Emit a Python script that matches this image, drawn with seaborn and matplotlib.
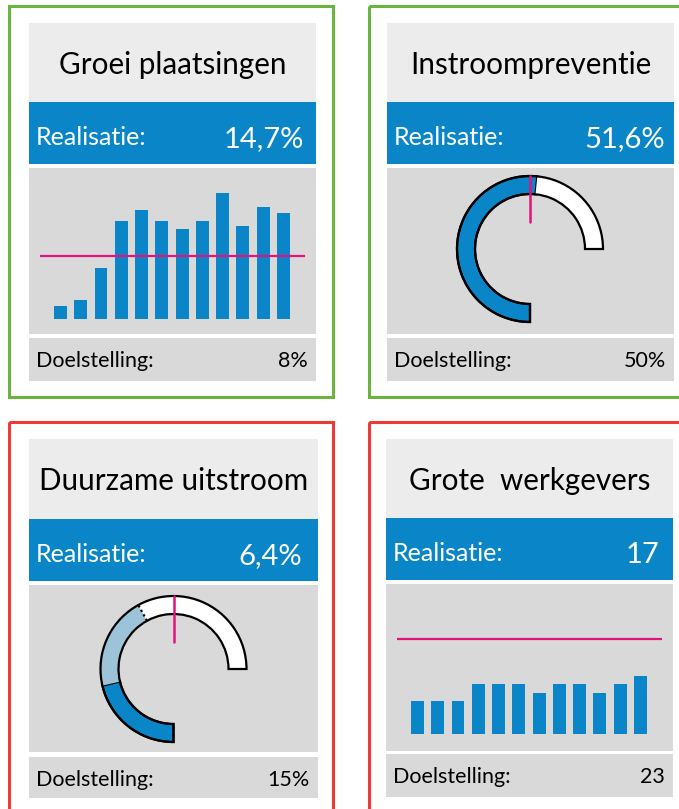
import numpy as np
import pandas as pd
import seaborn as sns
import matplotlib.pyplot as plt
from matplotlib.patches import Rectangle

# ---- data ----
titles = ["Groei plaatsingen", "Instroompreventie", "Duurzame uitstroom", "Grote  werkgevers"]
realisatie_txt = ["14,7%", "51,6%", "6,4%", "17"]
doel_txt = ["8%", "50%", "15%", "23"]
status = ["groen", "groen", "rood", "rood"]

maanden = ["jan", "feb", "mrt", "apr", "mei", "jun", "jul", "aug", "sep", "okt", "nov", "dec"]
plaatsingen = [1.7, 2.4, 6.5, 12.4, 13.8, 12.4, 11.4, 12.4, 16.0, 11.8, 14.2, 13.5]
plaatsingen_doel = 8
werkgevers = [8, 8, 8, 12, 12, 12, 10, 12, 12, 10, 12, 14]
werkgevers_doel = 23

instroom_real = 51.6
instroom_doel = 50
instroom_max = 75
uitstroom_real = 6.4
uitstroom_prognose = 12.6
uitstroom_doel = 15
uitstroom_max = 22.5

# ---- style ----
sns.set_style("white")
plt.rcParams["font.family"] = ["Lato", "DejaVu Sans"]

BLUE = "#0A86C8"
LIGHTBLUE = "#9DC3D9"
MAGENTA = "#E2127F"
TITLEBG = "#ECECEC"
CHARTBG = "#D9D9D9"
BORDER = {"groen": "#6BB43F", "rood": "#EC3A34"}

W, H = 679, 809
fig = plt.figure(figsize=(W / 100, H / 100), dpi=100)
bg = fig.add_axes([0, 0, 1, 1])
bg.set_xlim(0, W)
bg.set_ylim(H, 0)
bg.axis("off")


def px_axes(x0, y0, x1, y1):
    # pixel box (top-down y) -> figure axes
    ax = fig.add_axes([x0 / W, 1 - y1 / H, (x1 - x0) / W, (y1 - y0) / H])
    ax.patch.set_alpha(0)
    return ax


# layout per panel: border, box x-range, title/blue/chart/doel y-ranges
layout = [
    dict(border=(9, 6, 333, 397), bx=(29, 316), t=(23, 102), b=(102, 164), c=(168, 334), d=(338, 381), roff=12),
    dict(border=(369, 6, 700, 397), bx=(387, 674), t=(23, 102), b=(102, 164), c=(168, 334), d=(338, 381), roff=9),
    dict(border=(9, 422, 333, 840), bx=(29, 318), t=(439, 519), b=(519, 581), c=(585, 752), d=(757, 798), roff=16),
    dict(border=(369, 422, 700, 840), bx=(386, 673), t=(439, 518), b=(518, 580), c=(584, 751), d=(754, 797), roff=14),
]

for i, L in enumerate(layout):
    x0, y0, x1, y1 = L["border"]
    bg.add_patch(Rectangle((x0, y0), x1 - x0, y1 - y0, fill=False,
                           edgecolor=BORDER[status[i]], lw=2.2))
    bx0, bx1 = L["bx"]
    for key, col in [("t", TITLEBG), ("b", BLUE), ("c", CHARTBG), ("d", CHARTBG)]:
        ya, yb = L[key]
        bg.add_patch(Rectangle((bx0, ya), bx1 - bx0, yb - ya, color=col, lw=0))
    cx = (bx0 + bx1) / 2
    bg.text(cx, L["t"][0] + 51, titles[i], ha="center", va="baseline", fontsize=21.3, color="black")
    bg.text(bx0 + 7, L["b"][0] + 43, "Realisatie:", ha="left", va="baseline", fontsize=18, color="white")
    bg.text(bx1 - L["roff"], L["b"][0] + 45, realisatie_txt[i], ha="right", va="baseline",
            fontsize=21, color="white")
    bg.text(bx0 + 7, L["d"][0] + 29, "Doelstelling:", ha="left", va="baseline", fontsize=15.5, color="black")
    bg.text(bx1 - 8, L["d"][0] + 29, doel_txt[i], ha="right", va="baseline", fontsize=15.5, color="black")


def bar_panel(L, values, doel, ymin, ymax):
    ax = px_axes(L["bx"][0], L["c"][0], L["bx"][1], L["c"][1])
    df = pd.DataFrame({"maand": maanden, "waarde": values})
    sns.barplot(data=df, x="maand", y="waarde", color=BLUE, saturation=1, width=0.64,
                linewidth=0, ax=ax)
    ax.hlines(doel, -1, 12.05, color=MAGENTA, lw=1.6)
    ax.set_xlim(-1.55, 12.6)
    ax.set_ylim(ymin, ymax)
    ax.axis("off")


def gauge_panel(cx, cy, real, doel, vmax, prognose=None):
    half = 85
    ax = px_axes(cx - half, cy - half, cx + half, cy + half)
    r_out, ring = 73, 18
    gap = vmax / 3
    light = 0 if prognose is None else prognose - real
    rest = vmax - real - light
    wedges, _ = ax.pie([real, light, rest, gap], colors=[BLUE, LIGHTBLUE, "white", "none"],
                       startangle=270, counterclock=False, radius=r_out,
                       wedgeprops=dict(width=ring, edgecolor="none", lw=1.6))
    wedges[0].set_edgecolor("black")
    outline, _ = ax.pie([vmax, gap], colors=["none", "none"], startangle=270, counterclock=False,
                        radius=r_out, wedgeprops=dict(width=ring, edgecolor="black", lw=1.6))
    outline[1].set_visible(False)

    def ang(v):
        return np.deg2rad(270 - v / vmax * 270)

    if prognose is not None:
        a = ang(prognose)
        ax.plot([(r_out - ring) * np.cos(a), r_out * np.cos(a)],
                [(r_out - ring) * np.sin(a), r_out * np.sin(a)], color="black", lw=1.6, ls=(0, (1, 1.3)))
    a = ang(doel)
    ax.plot([27 * np.cos(a), r_out * np.cos(a)], [27 * np.sin(a), r_out * np.sin(a)],
            color=MAGENTA, lw=1.8)
    ax.set_xlim(-half, half)
    ax.set_ylim(-half, half)
    ax.axis("off")


bar_panel(layout[0], plaatsingen, plaatsingen_doel, -1.9, 19.2)
gauge_panel(530, 249, instroom_real, instroom_doel, instroom_max)
gauge_panel(173.5, 669, uitstroom_real, uitstroom_doel, uitstroom_max, uitstroom_prognose)
bar_panel(layout[3], werkgevers, werkgevers_doel, -4.1, 36.3)

fig.savefig("out.png", dpi=100)
